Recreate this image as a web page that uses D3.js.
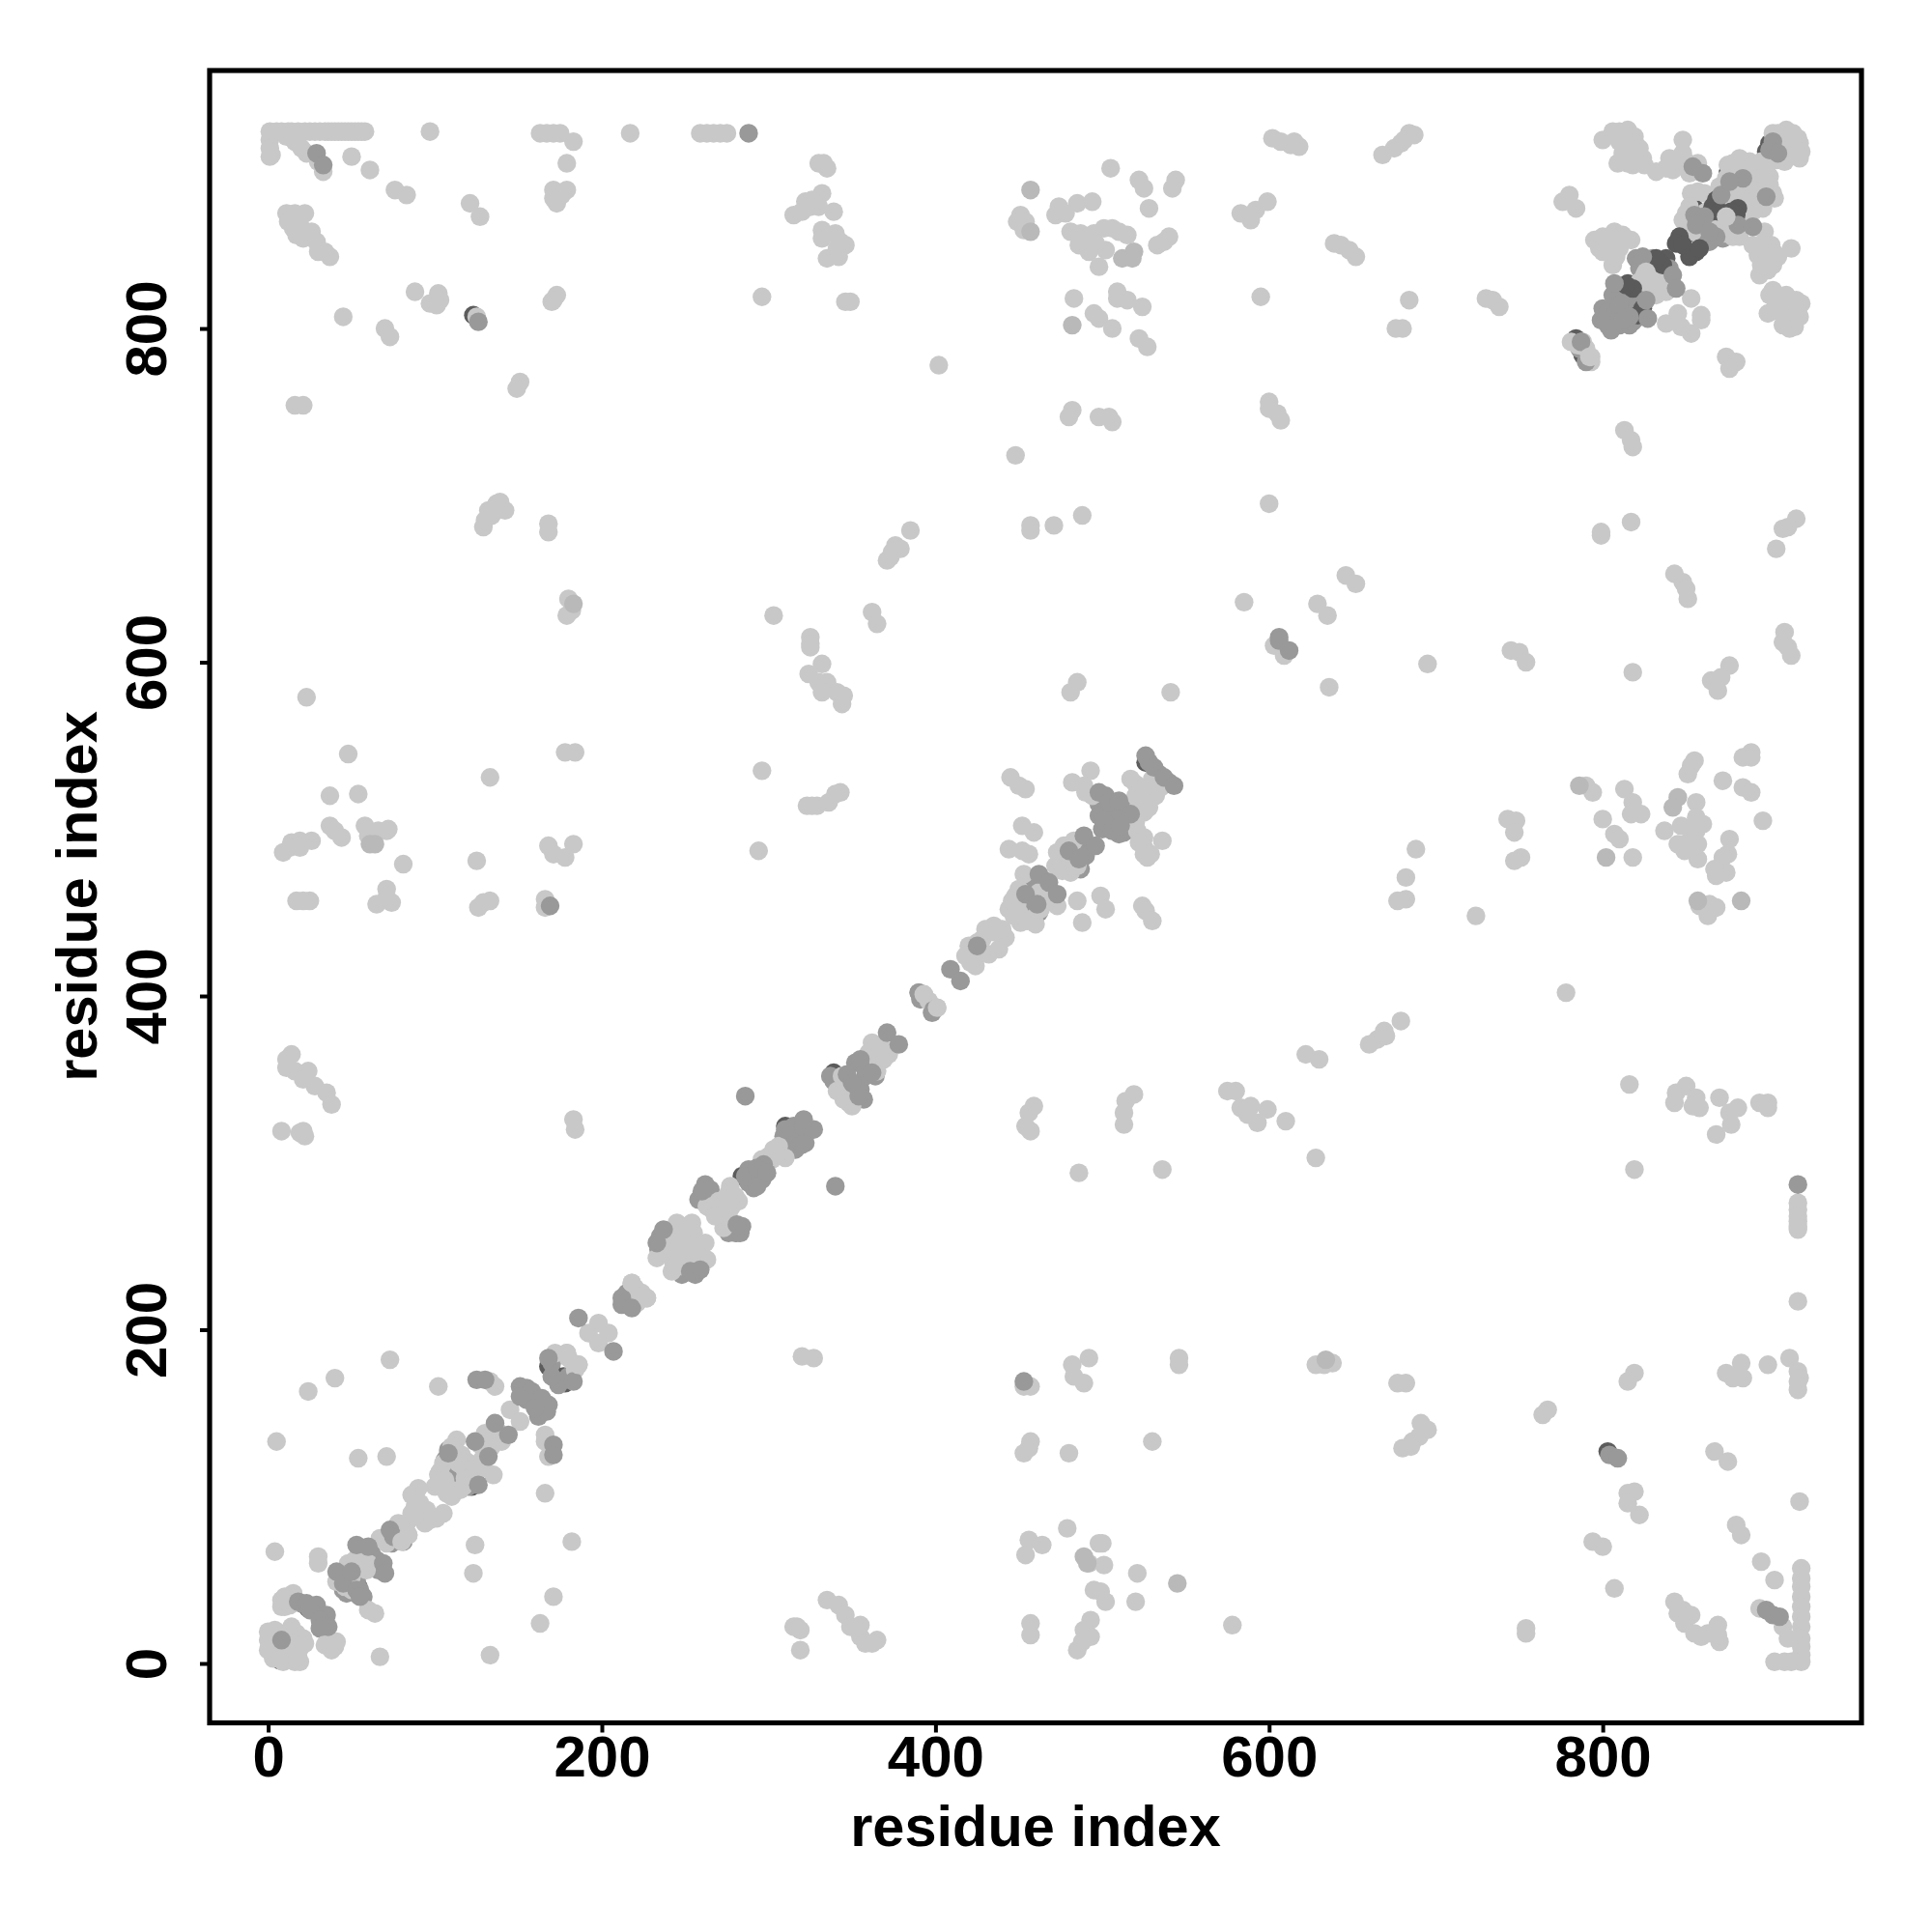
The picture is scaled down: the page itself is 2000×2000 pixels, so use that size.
<!DOCTYPE html>
<html><head><meta charset="utf-8">
<script src="https://cdn.jsdelivr.net/npm/d3@7"></script>
<style>html,body{margin:0;background:#fff}svg{display:block}text{font-family:"Liberation Sans",Arial,sans-serif;font-weight:bold;fill:#000}</style>
</head><body><div id="chart"></div>
<script>
const xTickValues=[0,200,400,600,800];
const yTickValues=[0,200,400,600,800];
const xTitle="residue index", yTitle="residue index";
const darkUnder=[[1,11],[4,6],[7,2],[24,33],[34,25],[46,52],[50,57],[54,46],[77,78],[109,122],[112,118],[122,106],[124,110],[168,178],[170,175],[177,172],[178,168],[123,808],[284,292],[310,322],[339,354],[341,347],[344,342],[346,339],[500,520],[503,512],[508,500],[513,504],[526,540],[803,127],[855,872],[858,868],[864,860],[875,893],[900,911],[898,906],[902,902],[896,878],[784,794],[788,784],[838,842],[815,827],[812,818],[810,808],[851,857],[866,854]];
const lightPts=[
[1,918],[5,918],[8,918],[12,918],[14,918],[18,918],[22,918],[25,918],[28,918],[31,918],[34,918],[36,918],[38,918],[40,918],[42,918],[44,918],[46,918],[48,918],[50,918],[52,918],[54,918],[56,918],[58,918],[1,913],[1,908],[1,903],[2,904],[11,915],[16,912],[20,908],[23,905],[30,900],[33,894],[50,903],[61,895],[76,883],[83,880],[121,875],[127,867],[97,918],[163,917],[167,917],[171,917],[175,917],[183,912],[179,899],[171,883],[179,883],[173,875],[176,880],[171,878],[217,917],[259,917],[263,917],[267,917],[271,917],[275,917],
[11,869],[16,869],[22,869],[15,860],[20,860],[21,854],[29,852],[34,846],[37,843],[30,846],[17,856],[26,858],[12,864],[45,807],[70,800],[73,795],[88,822],[102,821],[97,815],[103,817],[101,814],[125,807],[170,816],[173,820],[171,817],[151,768],[149,764],[16,754],[21,754],[137,695],[142,691],[132,691],[129,681],[130,685],[134,688],[139,696],[168,683],[168,678],[180,638],[182,631],[179,628],
[333,899],[335,896],[330,899],[332,881],[322,876],[326,877],[339,870],[315,868],[320,870],[325,873],[330,873],[332,859],[332,854],[340,857],[343,852],[346,850],[341,848],[335,842],[342,843],[296,819],[346,816],[349,816],[402,778],[451,868],[449,864],[454,864],[453,859],[505,896],[522,889],[525,884],[544,889],[542,884],[528,872],[474,873],[472,868],[478,869],[485,875],[494,876],[481,858],[487,857],[486,850],[492,846],[495,857],[501,860],[506,860],[502,847],[498,837],[515,856],[510,858],[496,851],[533,850],[540,855],[537,852],[509,822],[509,818],[515,817],[524,813],[483,818],[495,809],[498,806],[506,800],[522,794],[527,789],[583,869],[589,867],[589,865],[592,871],[599,876],[595,819],[602,914],[607,912],[613,910],[482,751],[480,747],[498,747],[504,747],[506,744],[448,724],[600,756],[600,752],[605,749],[607,745],[488,688],[457,682],[457,679],[471,682],[600,695],[385,679],[376,670],[379,668],[374,666],[371,661],[373,663],[303,628],[362,630],[365,623],[325,615],[585,636],
[618,909],[615,912],[684,917],[687,916],[679,911],[675,908],[668,904],[681,913],[652,843],[648,847],[639,851],[643,850],[684,817],[676,800],[680,800],[730,818],[734,817],[738,813],[848,913],[800,913],[806,918],[815,919],[810,918],[819,915],[817,908],[824,902],[809,899],[820,904],[815,899],[832,894],[840,902],[845,900],[850,900],[845,897],[857,882],[853,881],[861,881],[857,899],[882,902],[878,899],[888,900],[877,892],[893,895],[900,891],[902,881],[890,885],[884,881],[879,881],[892,877],[880,875],[902,917],[910,919],[918,911],[918,902],[909,914],[912,903],[904,901],[913,908],[850,869],[880,857],[897,858],[901,850],[898,843],[902,838],[893,844],[913,848],[894,832],[807,858],[795,853],[801,850],[810,848],[817,853],[806,838],[808,843],[798,848],[780,880],[776,876],[784,872],[830,836],[832,827],[781,792],[853,818],[838,803],[845,809],[859,808],[853,797],[847,801],[859,805],[874,783],[880,780],[876,776],[902,823],[899,809],[907,817],[916,817],[919,815],[912,800],[918,807],[915,801],[911,813],[900,820],[799,678],[799,676],[817,684],[813,739],[817,733],[818,729],[843,653],[848,648],[850,644],[851,638],[916,686],[911,681],[908,680],[904,668],[646,652],[652,647],[629,635],[635,628],[909,618],
[23,579],[48,545],[37,520],[54,521],[178,546],[184,546],[133,531],[37,502],[40,499],[44,495],[58,502],[60,496],[71,499],[66,499],[72,500],[26,493],[19,493],[14,492],[9,486],[13,489],[19,489],[81,479],[125,481],[71,464],[65,455],[74,456],[71,459],[17,457],[25,457],[21,457],[168,490],[171,485],[178,483],[183,491],[133,457],[129,456],[126,453],[166,458],[166,453],[14,365],[11,362],[11,357],[16,355],[24,355],[21,350],[28,346],[35,342],[38,335],[8,319],[19,318],[22,316],[21,319],[183,326],[184,320],
[325,611],[325,609],[332,599],[324,593],[335,588],[330,588],[341,582],[344,575],[332,582],[345,580],[603,610],[609,604],[485,588],[481,582],[541,582],[296,535],[340,521],[343,522],[336,516],[329,514],[323,514],[326,514],[294,487],[445,531],[450,526],[454,524],[493,535],[482,528],[489,526],[452,502],[459,498],[444,488],[456,485],[452,487],[521,499],[525,495],[527,483],[525,489],[536,493],[473,454],[485,457],[488,444],[499,460],[502,452],[524,454],[526,451],[530,445],[459,334],[456,330],[454,322],[457,319],[519,341],[514,337],[513,330],[513,323],[575,343],[580,343],[583,333],[589,334],[599,332],[593,324],[587,329],[610,325],[486,294],[536,296],
[636,585],[695,599],[745,607],[750,606],[754,600],[818,594],[876,598],[871,591],[865,589],[869,583],[911,609],[913,604],[908,612],[688,488],[682,471],[677,457],[682,458],[743,506],[748,505],[747,498],[751,483],[747,481],[724,448],[790,526],[794,522],[813,524],[818,516],[823,509],[817,509],[800,506],[807,497],[810,494],[818,483],[853,538],[855,541],[851,533],[837,499],[856,516],[860,503],[847,502],[856,507],[856,499],[845,491],[849,487],[857,491],[857,482],[852,493],[876,494],[875,485],[872,483],[868,472],[874,474],[867,476],[872,529],[884,543],[889,546],[889,543],[884,525],[889,522],[896,505],[864,455],[863,448],[868,453],[858,454],[778,402],[679,385],[669,379],[670,376],[665,374],[660,371],[622,365],[630,362],[816,347],[844,342],[850,346],[843,336],[856,339],[858,333],[854,334],[870,339],[881,333],[876,330],[877,323],[868,317],[894,336],[899,336],[899,333],[819,296],[628,303],
[320,184],[327,183],[453,166],[457,166],[492,183],[482,179],[483,172],[489,168],[546,183],[546,179],[457,133],[453,126],[456,129],[480,126],[530,133],[479,81],[456,74],[464,71],[454,65],[500,72],[498,72],[492,60],[501,59],[521,54],[520,37],[495,44],[499,43],[502,37],[578,23],[457,24],[457,17],[493,26],[489,20],[493,16],[485,8],[488,13],[317,22],[319,20],[315,22],[319,8],[335,38],[342,35],[346,29],[355,23],[349,22],[355,16],[358,12],[365,14],[362,12],
[917,276],[917,272],[917,268],[917,265],[917,262],[917,260],[917,217],[638,180],[628,179],[633,179],[677,168],[682,168],[819,174],[815,169],[883,180],[874,174],[878,171],[884,171],[899,179],[912,183],[917,175],[917,169],[918,171],[917,164],[767,152],[764,149],[691,144],[695,140],[686,133],[690,136],[680,129],[685,130],[867,127],[875,121],[819,103],[815,102],[815,96],[822,89],[918,97],[880,83],[883,77],[794,73],[800,70],[895,61],[903,50],[807,45],[919,57],[919,51],[919,46],[919,40],[919,34],[919,28],[919,22],[919,15],[919,10],[919,5],[919,1],[754,21],[754,18],[843,37],[845,30],[848,32],[853,29],[849,24],[855,18],[859,16],[869,23],[870,13],[869,17],[863,18],[894,33],[908,22],[911,15],[903,1],[909,1],[913,1],
[0,19],[0,8],[14,22],[21,15],[9,1],[16,1],[13,3],[19,9],[12,19],[0,14],[12,40],[8,38],[10,34],[15,42],[41,13],[34,11],[38,8],[67,4],[133,5],[4,67],[30,64],[30,60],[55,62],[59,56],[60,32],[64,30],[41,49],[50,44],[67,75],[78,84],[84,77],[90,105],[86,101],[88,94],[83,84],[92,90],[94,84],[105,90],[101,87],[86,90],[113,134],[102,113],[100,106],[107,102],[112,103],[119,121],[135,113],[118,111],[129,117],[133,136],[127,131],[145,152],[151,145],[133,169],[136,166],[102,166],[73,182],[40,171],[24,163],[5,133],[71,124],[54,123],[124,71],[123,54],[182,73],[171,40],[163,24],[166,102],[166,137],[166,133],[168,124],[179,186],[186,179],[198,204],[204,198],[192,198],[198,192],[218,228],[227,219],
[245,264],[254,264],[241,254],[251,254],[262,252],[263,242],[244,246],[233,243],[242,235],[255,242],[270,277],[263,274],[277,286],[282,277],[273,261],[273,273],[303,308],[310,303],
[361,366],[369,362],[425,432],[432,425],[418,424],[424,418],[435,442],[442,435],[393,401],[401,393],[448,460],[444,452],[451,444],[459,447],[453,473],[473,486],[472,478],[481,474],[483,493],[520,527],[529,522]];
const lightFill=[[2,16],[4,20],[5,4],[3,3],[8,2],[11,6],[12,10],[17,18],[15,12],[22,12],[18,4],[19,1],[35,12],[37,14],[40,10],[14,37],[10,40],[9,36],[8,34],[13,35],[50,52],[46,46],[48,60],[55,66],[52,62],[60,60],[57,58],[77,82],[82,78],[80,80],[71,72],[89,98],[90,88],[95,92],[97,86],[91,96],[88,88],[105,120],[103,115],[106,110],[102,108],[108,105],[110,100],[115,104],[117,106],[110,130],[112,126],[116,125],[114,120],[118,116],[122,112],[125,118],[128,122],[130,128],[128,133],[134,130],[137,140],[140,133],[130,138],[135,135],[180,183],[172,186],[184,176],[220,225],[224,222],[221,216],[238,256],[245,258],[250,262],[255,258],[247,250],[243,240],[249,238],[252,244],[258,248],[260,244],[240,248],[236,250],[256,252],[248,254],[266,272],[270,270],[272,268],[276,282],[280,280],[278,274],[275,276],[268,268],[276,270],[300,304],[302,302],[306,310],[305,305],[296,302],[344,352],[341,343],[345,338],[350,334],[348,336],[365,370],[369,368],[362,372],[366,360],[360,366],[372,365],[365,355],[396,397],[420,430],[428,426],[421,420],[428,434],[432,438],[438,428],[436,438],[440,440],[430,440],[449,455],[450,450],[447,448],[455,445],[460,443],[463,452],[466,456],[462,462],[450,464],[446,457],[477,490],[475,482],[478,478],[476,475],[480,486],[485,478],[490,522],[494,520],[522,492],[525,485],[529,485],[520,504],[517,530],[520,520],[522,515],[525,510],[528,513],[532,520],[535,525],[525,525],[530,530],[785,790],[790,788],[793,780],[788,792],[825,832],[828,826],[835,828],[838,822],[832,820],[826,830],[822,828],[848,865],[852,873],[850,862],[854,858],[865,864],[862,870],[870,866],[875,868],[878,862],[878,855],[872,857],[882,855],[875,898],[885,895],[890,892],[895,900],[898,896],[900,886],[903,878],[895,890],[887,888],[883,876],[875,880],[870,885],[874,890],[896,872],[890,870],[885,868],[905,917],[914,917],[917,914],[915,905],[909,900],[902,910],[919,906],[800,855],[805,850],[804,845],[808,853],[800,846],[812,856],[810,912],[815,912],[820,910],[812,905],[822,908],[825,898],[818,898],[842,895],[848,905],[852,893],[838,896],[897,850],[899,846],[903,845],[895,838],[899,835],[905,843],[890,850],[903,812],[906,810],[910,820],[915,811],[917,810],[913,805],[908,802],[904,818]];
const paleMidPts=[[183,635],[457,883],[457,858],[512,842],[519,846],[518,842],[482,802],[61,491],[64,491],[786,526],[845,519],[842,513],[802,483],[857,457],[883,457],[634,182],[489,64],[491,60],[545,48]];
const midPts=[[29,905],[33,898],[126,804],[288,917],[606,615],[606,613],[612,607],[860,893],[854,897],[871,880],[884,890],[876,888],[898,879],[902,912],[900,907],[905,905],[855,868],[861,867],[856,862],[868,855],[864,858],[881,862],[890,861],[824,843],[842,832],[844,824],[787,792],[790,780],[807,827],[826,817],[810,814],[816,807],[812,805],[827,806],[799,805],[805,799],[169,454],[286,340],[526,544],[531,537],[537,531],[543,526],[498,522],[504,516],[510,517],[517,509],[501,505],[506,499],[511,502],[489,496],[496,490],[480,487],[486,482],[462,473],[468,468],[473,461],[454,461],[461,455],[409,416],[415,409],[425,430],[390,402],[399,392],[371,378],[378,371],[355,362],[362,354],[347,353],[354,340],[350,348],[321,326],[327,320],[310,320],[320,311],[297,299],[286,292],[293,297],[293,286],[299,294],[260,283],[281,263],[237,260],[233,252],[253,235],[259,236],[340,286],[453,169],[917,287],[804,125],[809,123],[898,32],[902,29],[906,28],[41,55],[45,48],[50,55],[53,44],[55,40],[53,71],[60,70],[69,60],[70,54],[18,37],[23,36],[29,35],[25,32],[35,29],[31,26],[36,22],[32,22],[8,14],[73,80],[81,73],[75,76],[108,126],[126,107],[124,133],[132,124],[136,144],[144,137],[125,170],[130,170],[151,166],[158,163],[151,160],[164,159],[167,151],[160,153],[168,183],[183,169],[171,131],[171,125],[186,207],[207,187],[212,219],[218,213]];
const midFill=[[6,10],[3,12],[20,36],[27,33],[33,28],[34,24],[31,21],[34,20],[43,53],[47,50],[45,44],[47,42],[53,50],[53,48],[55,44],[57,40],[54,41],[58,65],[62,66],[65,62],[66,56],[68,57],[64,58],[76,78],[71,76],[78,74],[74,72],[106,122],[109,118],[108,128],[111,112],[120,106],[123,110],[153,163],[155,158],[160,158],[165,155],[168,155],[162,148],[155,165],[170,180],[178,170],[180,172],[174,167],[170,172],[215,222],[212,215],[235,256],[234,248],[248,233],[256,233],[250,236],[258,278],[262,287],[265,284],[284,262],[278,260],[283,258],[280,258],[276,258],[288,296],[290,290],[296,290],[288,288],[291,285],[297,292],[312,318],[315,322],[318,318],[322,320],[316,308],[322,312],[314,312],[309,316],[337,352],[339,349],[343,350],[345,348],[347,345],[350,342],[352,338],[350,336],[355,344],[357,338],[357,358],[359,362],[352,360],[364,352],[358,352],[391,398],[398,390],[390,402],[458,466],[464,470],[456,470],[466,463],[470,458],[455,455],[458,458],[462,450],[452,452],[456,450],[492,490],[487,490],[484,484],[490,484],[482,480],[487,476],[498,515],[502,520],[505,510],[498,508],[500,500],[504,503],[508,505],[515,514],[512,505],[517,503],[513,498],[510,497],[506,510],[528,540],[534,533],[540,528],[534,528],[786,788],[790,785],[800,812],[803,810],[806,820],[810,818],[812,824],[816,822],[820,818],[822,812],[825,822],[818,812],[806,806],[808,810],[814,810],[810,802],[816,802],[806,802],[820,806],[818,804],[803,802],[820,842],[826,838],[822,836],[830,842],[838,832],[842,826],[840,836],[852,870],[856,866],[853,864],[860,860],[858,858],[862,855],[866,858],[870,858],[864,852],[872,854],[868,860],[875,862],[876,884],[880,888],[885,883],[888,880],[892,882],[896,884],[890,876],[884,874],[878,878],[875,876],[882,892],[903,908],[900,903],[906,913],[907,902],[910,909],[913,904]];
const darkPts=[[846,855],[844,851],[856,846],[852,843],[848,850],[858,848],[834,840],[836,838],[832,842],[866,873],[868,877],[865,870],[870,870],[881,872],[880,868],[877,870],[818,824],[814,826],[824,812],[821,808]];
const lightTopPts=[[874,867],[792,783],[793,783],[218,228],[227,219],[80,73],[84,77],[393,401],[401,393],[826,834],[832,827],[179,186],[186,179]];
const series=[[darkUnder,"#5c5c5c"],[midFill,"#999999"],[lightPts,"#c8c8c8"],[lightFill,"#c8c8c8"],[paleMidPts,"#b9b9b9"],[darkPts,"#5a5a5a"],[midPts,"#999999"],[lightTopPts,"#c8c8c8"]];

const W=2000,H=2000,L=217,R=1927,T=73,B=1783.5;
const x=d3.scaleLinear().domain([-35.1,955.1]).range([L,R]);
const y=d3.scaleLinear().domain([-35.6,954.6]).range([B,T]);
const svg=d3.select("#chart").append("svg").attr("width",W).attr("height",H);
series.forEach(([pts,color])=>{
  svg.append("g").selectAll("circle").data(pts).join("circle")
    .attr("cx",d=>x(d[0])).attr("cy",d=>y(d[1])).attr("r",9.7).attr("fill",color);
});
svg.append("rect").attr("x",L).attr("y",T).attr("width",R-L).attr("height",B-T)
  .attr("fill","none").attr("stroke","#000").attr("stroke-width",5.2);
const ax=svg.append("g").attr("transform",`translate(0,${B})`)
  .call(d3.axisBottom(x).tickValues(xTickValues).tickSize(10).tickPadding(0).tickFormat(d3.format("d")));
ax.select(".domain").remove();
ax.selectAll("line").attr("stroke","#000").attr("stroke-width",4);
ax.selectAll("text").attr("y",55.5).attr("dy",0).style("font-size","60px");
const ay=svg.append("g").attr("transform",`translate(${L},0)`)
  .call(d3.axisLeft(y).tickValues(yTickValues).tickSize(10).tickPadding(0).tickFormat(d3.format("d")));
ay.select(".domain").remove();
ay.selectAll("line").attr("stroke","#000").attr("stroke-width",4);
ay.selectAll("text").attr("x",0).attr("y",0).attr("dy",0).attr("text-anchor","middle")
  .attr("transform","translate(-45.5,0) rotate(-90)").style("font-size","60px");
svg.append("text").attr("x",1072).attr("y",1911).attr("text-anchor","middle").style("font-size","59.5px").text(xTitle);
svg.append("text").attr("transform","translate(99.5,928) rotate(-90)").attr("text-anchor","middle").style("font-size","59.5px").text(yTitle);
</script></body></html>
